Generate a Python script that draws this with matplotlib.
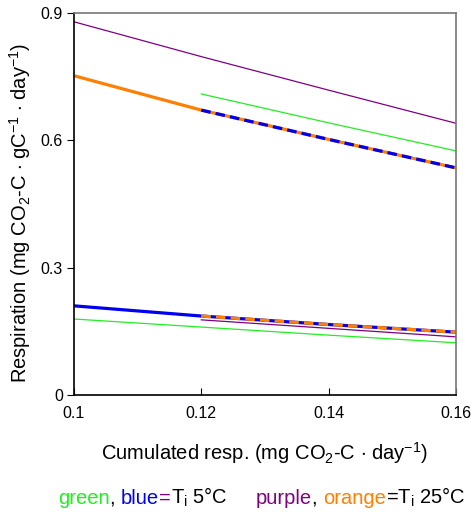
import matplotlib
matplotlib.use('Agg')
import matplotlib.pyplot as plt

plt.rcParams['font.family'] = ['Liberation Sans', 'DejaVu Sans']
plt.rcParams['mathtext.fontset'] = 'custom'
plt.rcParams['mathtext.rm'] = 'Liberation Sans'

# data
x_full = [0.10, 0.12, 0.14, 0.16]
x_half = [0.12, 0.14, 0.16]

purple_hi = [0.879, 0.797, 0.718, 0.640]
orange_hi = [0.752, 0.671]            # 0.10 -> 0.12, solid
orange_hi_dash = [0.671, 0.602, 0.535]  # 0.12 -> 0.16, blue/orange dashed
green_hi = [0.709, 0.641, 0.575]

blue_lo = [0.210, 0.186]
blue_lo_dash = [0.186, 0.166, 0.148]
purple_lo = [0.177, 0.157, 0.137]
green_lo = [0.179, 0.160, 0.141, 0.123]

GREEN = '#22ee22'
BLUE = '#0000ee'
PURPLE = '#800080'
ORANGE = '#ff7f00'

fig = plt.figure(figsize=(4.71, 5.15), dpi=100)
ax = fig.add_axes([0.157, 0.233, 0.811, 0.742])

TH = 2.3
ax.plot(x_full, purple_hi, color=PURPLE, lw=0.9)
ax.plot(x_half, green_hi, color=GREEN, lw=0.9)
ax.plot(x_full[:2], orange_hi, color=ORANGE, lw=TH, solid_capstyle='butt')
ax.plot(x_half, orange_hi_dash, color=ORANGE, lw=TH, solid_capstyle='butt')
ax.plot(x_half, orange_hi_dash, color=BLUE, lw=TH, dashes=(3, 1.6))

ax.plot(x_full, green_lo, color=GREEN, lw=0.9)
ax.plot(x_half, purple_lo, color=PURPLE, lw=0.9)
ax.plot(x_full[:2], blue_lo, color=BLUE, lw=TH, solid_capstyle='butt')
ax.plot(x_half, blue_lo_dash, color=BLUE, lw=TH, solid_capstyle='butt')
ax.plot(x_half, blue_lo_dash, color=ORANGE, lw=TH, dashes=(3, 1.6))

ax.set_xlim(0.1, 0.16)
ax.set_ylim(0, 0.9)
ax.set_xticks([0.1, 0.12, 0.14, 0.16])
ax.set_xticklabels(['0.1', '0.12', '0.14', '0.16'])
ax.set_yticks([0, 0.3, 0.6, 0.9])
ax.set_yticklabels(['0', '0.3', '0.6', '0.9'])
ax.tick_params(axis='x', direction='in', length=5, labelsize=11.5, pad=8)
ax.tick_params(axis='y', direction='out', length=5, labelsize=11.5, pad=3)
for s in ['top', 'right']:
    ax.spines[s].set_color('#777777')
for s in ax.spines.values():
    s.set_linewidth(1.2)

ax.set_xlabel(r'Cumulated resp. (mg CO$_\mathregular{2}$-C $\cdot$ day$^\mathregular{-1}$)',
              fontsize=14.5, labelpad=14)
ax.set_ylabel(r'Respiration (mg CO$_\mathregular{2}$-C $\cdot$ gC$^\mathregular{-1}$ $\cdot$ day$^\mathregular{-1}$)',
              fontsize=14.5)
ax.yaxis.set_label_coords(-0.107, 0.476)

# coloured legend line at the bottom
pieces = [('green', GREEN), (', ', 'black'), ('blue', BLUE), ('=', PURPLE),
          (r'T$_\mathregular{i}$ 5°C', 'black'), ('     ', 'black'),
          ('purple', PURPLE), (', ', 'black'), ('orange', ORANGE),
          (r'=T$_\mathregular{i}$ 25°C', 'black')]
renderer = fig.canvas.get_renderer()
xpos = 58 / 471
for txt, col in pieces:
    t = fig.text(xpos, 0.022, txt, color=col, fontsize=14.5, va='baseline')
    bb = t.get_window_extent(renderer)
    xpos += bb.width / fig.bbox.width

fig.savefig('out.png', dpi=100)
